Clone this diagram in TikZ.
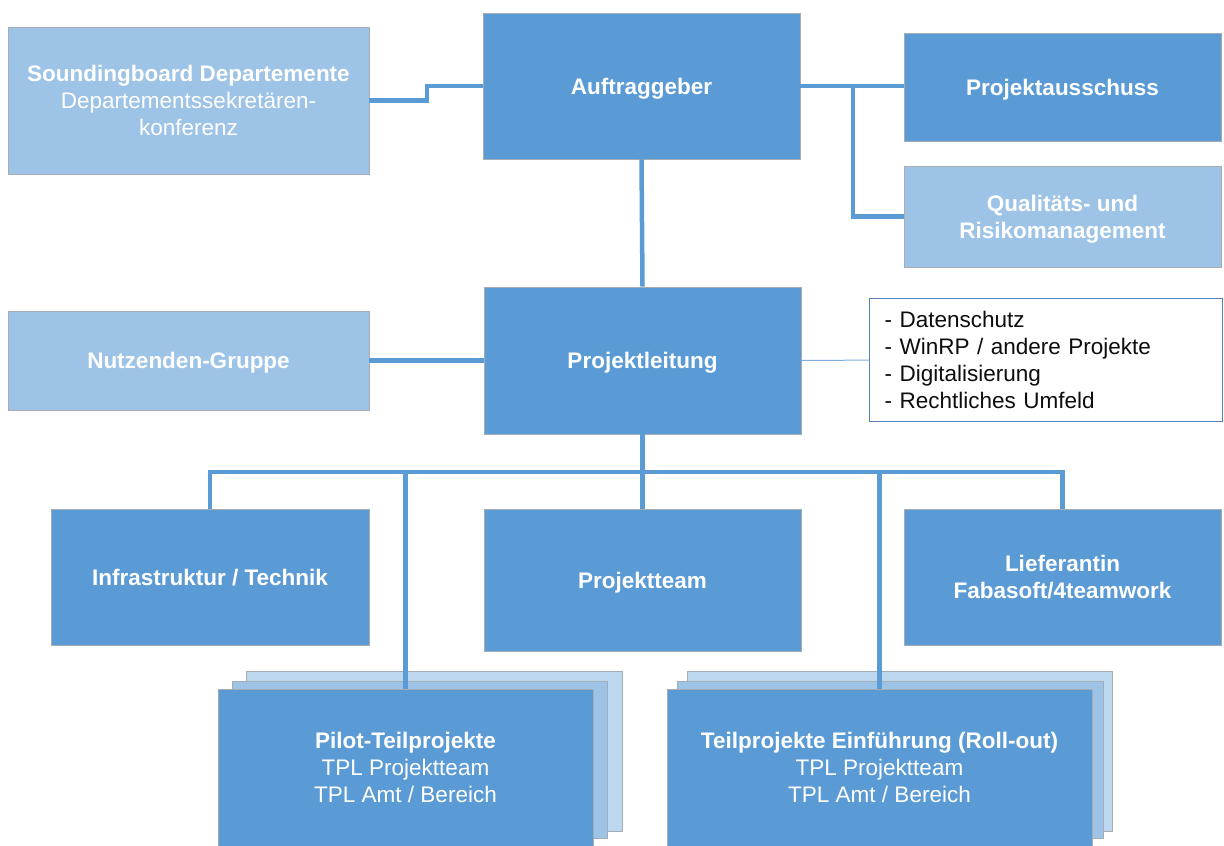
\documentclass[tikz,border=0pt]{standalone}
\usepackage{fontspec}
\setmainfont{Liberation Sans}
\definecolor{dkblue}{RGB}{91,155,213}
\definecolor{ltblue}{RGB}{157,195,230}
\definecolor{xltblue}{RGB}{189,215,238}
\definecolor{boxedge}{RGB}{165,172,180}
\definecolor{tbedge}{RGB}{84,130,190}
\newcommand\fsz{\fontsize{22.5}{27}\selectfont}
\begin{document}
\begin{tikzpicture}[x=1pt,y=-1pt,
  box/.style={draw=boxedge, line width=0.6pt, inner sep=0pt, align=center, text=white, font=\fsz, text depth=0pt},
  dark/.style={box, fill=dkblue},
  light/.style={box, fill=ltblue},
  xlight/.style={box, fill=xltblue},
  conn/.style={draw=dkblue, line width=4.5pt},
  thin/.style={draw=dkblue!80, line width=1pt}]
\useasboundingbox (0,0) rectangle (1224,846);

% top row
\node[light, minimum width=361pt, minimum height=147pt] (sb) at (188.5,100.5)
  {\textbf{Soundingboard Departemente}\\Departementssekretären-\\konferenz};
\node[dark, minimum width=317pt, minimum height=146pt] (auf) at (641.5,86) {\textbf{Auftraggeber}};
\node[dark, minimum width=317pt, minimum height=108pt] (pa) at (1062.5,87) {\textbf{Projektausschuss}};
\node[light, minimum width=317pt, minimum height=101pt] (qr) at (1062.5,216.5)
  {\textbf{Qualitäts- und}\\\textbf{Risikomanagement}};

% middle row
\node[light, minimum width=361pt, minimum height=99pt] (nu) at (188.5,360.5) {\textbf{Nutzenden-Gruppe}};
\node[dark, minimum width=317pt, minimum height=147pt] (pl) at (642.5,360.5) {\textbf{Projektleitung}};
\node[draw=tbedge, line width=1.2pt, fill=white, text=black!95, font=\fsz, align=left,
  anchor=north west, text width=323pt, inner xsep=15pt, inner ysep=0pt,
  minimum height=123pt] (tb) at (869,298)
  {- Datenschutz\\- WinRP / andere Projekte\\- Digitalisierung\\- Rechtliches Umfeld};

% lower row
\node[dark, minimum width=318pt, minimum height=136pt] (inf) at (210,577) {\textbf{Infrastruktur / Technik}};
\node[dark, minimum width=317pt, minimum height=142pt] (pt) at (642.5,580) {\textbf{Projektteam}};
\node[dark, minimum width=317pt, minimum height=136pt] (lf) at (1062.5,577)
  {\textbf{Lieferantin}\\\textbf{Fabasoft/4teamwork}};

% stacks
\node[xlight, minimum width=376pt, minimum height=160pt] (pilb) at (434,751) {};
\node[light, minimum width=375pt, minimum height=157pt] (pilm) at (419.5,759.5) {};
\node[dark, minimum width=375pt, minimum height=157pt] (pil) at (405.5,767.5)
  {\textbf{Pilot-Teilprojekte}\\TPL Projektteam\\TPL Amt / Bereich};
\node[xlight, minimum width=425pt, minimum height=160pt] (rob) at (899.5,751) {};
\node[light, minimum width=426pt, minimum height=157pt] (rom) at (890,759.5) {};
\node[dark, minimum width=425pt, minimum height=157pt] (ro) at (879.5,767.5)
  {\textbf{Teilprojekte Einführung (Roll-out)}\\TPL Projektteam\\TPL Amt / Bereich};

% connectors
\coordinate (k1) at (427,0);
\coordinate (k2) at (853,0);
\coordinate (bus) at (643,472);
\draw[conn] (sb.east) -- (sb.east -| k1) |- (auf.west);
\draw[conn] (auf.east) -- (auf.east -| pa.west);
\draw[conn] (auf.east -| k2) |- (qr.west);
\draw[conn] (auf.south) -- (pl.north);
\draw[conn] (nu.east) -- (pl.west);
\draw[thin] (pl.east) -- (tb.west);
\draw[conn] (pl.south) -- (pt.north);
\draw[conn] (inf.north) |- (bus) -| (lf.north);
\draw[conn] (pil.north) -- (pil.north |- bus);
\draw[conn] (ro.north) -- (ro.north |- bus);
\end{tikzpicture}
\end{document}
